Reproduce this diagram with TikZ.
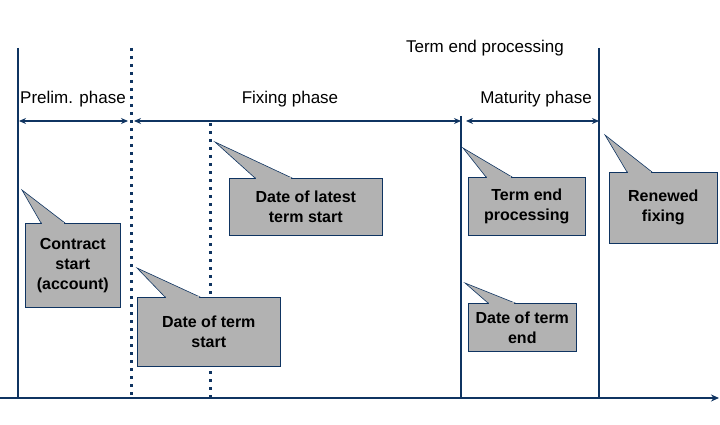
\documentclass[tikz,border=0pt]{standalone}
\usepackage{fontspec}
\setmainfont{Liberation Sans}
\usetikzlibrary{positioning, calc, arrows.meta}
\definecolor{navy}{HTML}{0F3461}
\definecolor{boxgray}{HTML}{B2B2B2}
\newcommand{\callout}[8]{%
% name, left, top, right, bottom, tip, base x1, base x2 -- text given in node after
\node[box, minimum width=#4-#2, minimum height=#5-#3, anchor=north west] (#1) at (#2,#3) {};
\coordinate (#1tip) at #6;
\filldraw[navy, fill=boxgray, line width=0.6pt] (#1tip) -- (#7,#3) -- (#8,#3) -- cycle;
\draw[boxgray, line width=1.2pt] (#7+0.8,#3) -- (#8-0.8,#3);
}
\begin{document}
\begin{tikzpicture}[x=1pt, y=-1pt,
    box/.style = {rectangle, draw=navy, fill=boxgray, line width=0.6pt, inner sep=0pt},
    ctext/.style = {font=\fontsize{16}{20}\selectfont\bfseries, align=center},
    phase/.style = {font=\fontsize{17}{20}\selectfont},
    solidline/.style = {navy, line width=2pt},
    dotline/.style = {navy, line width=3pt, dash pattern=on 3pt off 5pt},
    span/.style = {navy, line width=2pt, {Stealth[length=7pt,width=6pt]}-{Stealth[length=7pt,width=6pt]}},
  ]
  \useasboundingbox (0,0) rectangle (720,425);

  % time axis
  \coordinate (ax0) at (0,398);
  \coordinate (ax1) at (719,398);
  \draw[navy, line width=1.5pt, -{Stealth[length=8pt,width=7pt]}] (ax0) -- (ax1);

  % phase boundaries
  \coordinate (v1t) at (18,48);  \coordinate (v1b) at (18,398);
  \coordinate (v2t) at (131,48); \coordinate (v2b) at (131,398);
  \coordinate (v3t) at (210,123); \coordinate (v3b) at (210,398);
  \coordinate (v4t) at (461,116); \coordinate (v4b) at (461,398);
  \coordinate (v5t) at (599,48); \coordinate (v5b) at (599,398);
  \draw[solidline] (v1t) -- (v1b);
  \draw[dotline] (v2t) -- (v2b);
  \draw[dotline] (v3t) -- (v3b);
  \draw[solidline] (v4t) -- (v4b);
  \draw[solidline] (v5t) -- (v5b);

  % phase spans
  \coordinate (p1a) at (19,121);  \coordinate (p1b) at (128,121);
  \coordinate (p2a) at (134,121); \coordinate (p2b) at (461,121);
  \coordinate (p3a) at (466,121); \coordinate (p3b) at (599,121);
  \draw[span] (p1a) -- (p1b);
  \draw[span] (p2a) -- (p2b);
  \draw[span] (p3a) -- (p3b);

  \node[phase] (prelim) at (73,99) {Prelim. phase};
  \node[phase] (fixing) at (290,99) {Fixing phase};
  \node[phase] (maturity) at (536,99) {Maturity phase};
  \node[phase] (tep) at (485,48) {Term end processing};

  % callouts
  \callout{cs}{25}{223}{120}{307}{(22,190)}{41}{65}
  \node[ctext] at (cs) {Contract\\start\\(account)};
  \callout{ts}{137}{297}{280}{366}{(137,268)}{165}{200}
  \node[ctext] at (ts) {Date of term\\start};
  \callout{lt}{229}{178}{382}{235}{(215,142)}{255}{292}
  \node[ctext] at (lt) {Date of latest\\term start};
  \callout{te}{468}{177}{585}{235}{(463,148)}{486}{512}
  \node[ctext] at (te) {Term end\\processing};
  \callout{rf}{609}{172}{717}{243}{(605,135)}{627}{652}
  \node[ctext] at (rf) {Renewed\\fixing};
  \callout{td}{468}{303}{576}{351}{(465,283)}{488}{515}
  \node[ctext] at (td) {Date of term\\end};
\end{tikzpicture}
\end{document}
